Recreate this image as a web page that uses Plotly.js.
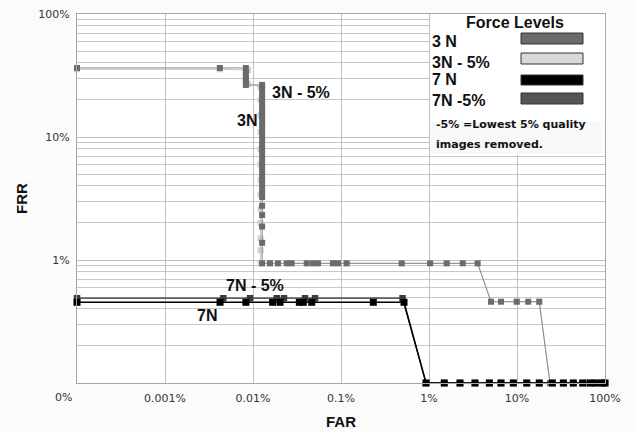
<!DOCTYPE html>
<html>
<head>
<meta charset="utf-8">
<script src="https://cdn.plot.ly/plotly-3.0.1.min.js"></script>
<style>html,body{margin:0;padding:0;background:#fbfbfb;}#chart{width:635px;height:432px;}</style>
</head>
<body>
<div id="chart"></div>
<script>
// ---- data (percent units) ----
const X_TICKS = [0.0001, 0.001, 0.01, 0.1, 1, 10, 100];
const X_TICK_TEXT = ['0%', '0.001%', '0.01%', '0.1%', '1%', '10%', '100%'];
const Y_TICKS = [1, 10, 100];
const Y_TICK_TEXT = ['1%', '10%', '100%'];
const X_TITLE = 'FAR';
const Y_TITLE = 'FRR';

const far3N = [0.0001, 0.0042, 0.0083, 0.0083, 0.0083, 0.0083, 0.0083, 0.0083,
  0.0127, 0.0127, 0.0127, 0.0127, 0.0127, 0.0127, 0.0127, 0.0127, 0.0127, 0.0127,
  0.0127, 0.0127, 0.0127, 0.0127, 0.0127, 0.0127, 0.0127, 0.0127, 0.0127, 0.0127,
  0.0127, 0.0127, 0.0127, 0.0127, 0.0127, 0.0127, 0.0127,
  0.0127, 0.0127, 0.0156, 0.0192, 0.0242, 0.0275, 0.0408, 0.0481, 0.0548, 0.0811, 0.0925, 0.116,
  0.49, 1.03, 1.59, 2.42, 3.57,
  5.07, 6.58, 9.93, 13.4, 17.9,
  23.7, 33.6, 43.6, 55.8, 67.6, 77, 91.8, 100];
const frr3N = [36.4, 36.4, 36.4, 34, 32, 30, 28.5, 26.5,
  26.5, 24.5, 22.5, 20.5, 19, 17.5, 16, 14.8, 13.6, 12.5,
  11.5, 10.5, 9.6, 8.8, 8.0, 7.3, 6.6, 6.0, 5.4, 4.9,
  4.4, 4.0, 3.6, 3.25, 2.76, 2.32, 1.87,
  1.38, 0.94, 0.94, 0.94, 0.94, 0.94, 0.94, 0.94, 0.94, 0.94, 0.94, 0.94,
  0.94, 0.94, 0.94, 0.94, 0.94,
  0.458, 0.458, 0.458, 0.458, 0.458,
  0.1, 0.1, 0.1, 0.1, 0.1, 0.1, 0.1, 0.1];

const far3N5 = [0.0001, 0.0042, 0.0088, 0.0088, 0.0122, 0.0122, 0.0122, 0.0122,
  0.0122, 0.0122, 0.0122, 0.0122, 0.0122, 0.0122, 0.0122, 0.0122, 0.0122,
  0.0192, 0.0408, 0.116, 0.49, 1.59, 3.57, 5.07, 9.93, 17.9, 23.7, 55.8, 100];
const frr3N5 = [35.5, 35.5, 35, 27, 25.5, 20, 15, 11, 8, 6, 4.5, 3.4, 2.6, 2.0, 1.5, 1.2, 0.94,
  0.94, 0.94, 0.94, 0.94, 0.94, 0.94, 0.458, 0.458, 0.458, 0.1, 0.1, 0.1];

const far7N = [0.0001, 0.00422, 0.0083, 0.0167, 0.0203, 0.0336, 0.0373, 0.0465, 0.233, 0.52,
  0.925, 1.49, 2.25, 3.33, 4.85, 6.58, 9.08, 12.9, 17.9, 25.2, 33.6, 43.6, 55.8, 67.6, 77, 91.8, 100];
const frr7N = [0.453, 0.453, 0.453, 0.453, 0.453, 0.453, 0.453, 0.453, 0.453, 0.453,
  0.1, 0.1, 0.1, 0.1, 0.1, 0.1, 0.1, 0.1, 0.1, 0.1, 0.1, 0.1, 0.1, 0.1, 0.1, 0.1, 0.1];

const far7N5 = [0.0001, 0.0046, 0.00925, 0.0186, 0.0225, 0.039, 0.0507, 0.50,
  0.925, 1.49, 2.25, 3.33, 4.85, 6.58, 9.08, 12.9, 17.9, 25.2, 33.6, 43.6, 55.8, 67.6, 77, 91.8, 100];
const frr7N5 = [0.489, 0.489, 0.489, 0.489, 0.489, 0.489, 0.489, 0.489,
  0.1, 0.1, 0.1, 0.1, 0.1, 0.1, 0.1, 0.1, 0.1, 0.1, 0.1, 0.1, 0.1, 0.1, 0.1, 0.1, 0.1];

const LEGEND_TITLE = 'Force Levels';
const LEGEND_NAMES = ['3 N', '3N - 5%', '7 N', '7N -5%'];
const LEGEND_COLORS = ['#6b6b6b', '#d8d8d8', '#000000', '#555555'];
const NOTE_LINES = ['-5% =Lowest 5% quality', 'images removed.'];

// ---- traces ----
const mk = (x, y, lineColor, lineW, mColor, mSize) => ({
  type: 'scatter', mode: 'lines+markers', x: x, y: y, cliponaxis: false,
  line: {color: lineColor, width: lineW},
  marker: {symbol: 'square', size: mSize, color: mColor, line: {width: 0}},
  showlegend: false, hoverinfo: 'skip'
});
const data = [
  mk(far3N5, frr3N5, '#c8c8c8', 1, '#d0d0d0', 6),
  mk(far3N, frr3N, '#8a8a8a', 1, '#6b6b6b', 6),
  mk(far7N5, frr7N5, '#333333', 1.3, '#3c3c3c', 6.5),
  mk(far7N, frr7N, '#000000', 1.5, '#000000', 7)
];

// ---- layout helpers (paper coords) ----
const L = 77, R = 605, T = 14, B = 383;
const px = v => (v - L) / (R - L);
const py = v => (B - v) / (B - T);

const shapes = [
  {type: 'rect', xref: 'paper', yref: 'paper', x0: px(430), x1: px(605), y0: py(155), y1: py(14.5),
   fillcolor: '#ffffff', line: {width: 0}, layer: 'above'},
  {type: 'rect', xref: 'paper', yref: 'paper', x0: px(431), x1: px(602), y0: py(154), y1: py(122),
   fillcolor: '#f8f8f8', line: {width: 0}, layer: 'above'}
];
const swY = [[33, 44], [53, 64], [75, 85], [93, 104]];
LEGEND_COLORS.forEach((c, i) => {
  shapes.push({type: 'rect', xref: 'paper', yref: 'paper', x0: px(521), x1: px(583),
    y0: py(swY[i][1]), y1: py(swY[i][0]), fillcolor: c, line: {color: '#333333', width: 1}, layer: 'above'});
});

const bold16 = {family: 'Liberation Sans, Arial, sans-serif', size: 16, color: '#111111'};
const titleFont = {family: 'Liberation Sans, Arial, sans-serif', size: 15, color: '#111111'};
const annotations = [
  {xref: 'paper', yref: 'paper', x: px(515), y: py(22), text: '<b>' + LEGEND_TITLE + '</b>', showarrow: false,
   font: bold16, xanchor: 'center', yanchor: 'middle'},
  {xref: 'paper', yref: 'paper', x: px(22), y: py(199), text: '<b>' + Y_TITLE + '</b>', showarrow: false,
   textangle: -90, font: titleFont, xanchor: 'center', yanchor: 'middle'}
];
const legY = [42, 62, 80, 100];
LEGEND_NAMES.forEach((n, i) => annotations.push({xref: 'paper', yref: 'paper', x: px(430), y: py(legY[i]),
  text: '<b>' + n + '</b>', showarrow: false, font: bold16, xanchor: 'left', yanchor: 'middle'}));
[125, 144].forEach((yy, i) => annotations.push({xref: 'paper', yref: 'paper', x: px(434), y: py(yy),
  text: '<b>' + NOTE_LINES[i] + '</b>', showarrow: false,
  font: {family: 'DejaVu Sans, sans-serif', size: 11, color: '#111111'}, xanchor: 'left', yanchor: 'middle'}));
const inPlot = [['3N - 5%', 301, 92], ['3N', 246.5, 120], ['7N - 5%', 254.5, 285], ['7N', 207, 315]];
inPlot.forEach(a => annotations.push({xref: 'paper', yref: 'paper', x: px(a[1]), y: py(a[2]),
  text: '<b>' + a[0] + '</b>', showarrow: false, font: bold16, xanchor: 'center', yanchor: 'middle'}));
// first x tick label sits slightly left of the axis corner
annotations.push({xref: 'paper', yref: 'paper', x: px(63), y: py(398), text: X_TICK_TEXT[0], showarrow: false,
  font: {family: 'DejaVu Sans, sans-serif', size: 11, color: '#333333'}, xanchor: 'center', yanchor: 'middle'});

const tickFont = {family: 'DejaVu Sans, sans-serif', size: 11, color: '#333333'};
const layout = {
  width: 635, height: 432,
  margin: {l: L, r: 635 - R, t: T, b: 432 - B},
  paper_bgcolor: '#fbfbfb', plot_bgcolor: '#ffffff',
  showlegend: false,
  xaxis: {
    type: 'log', range: [-4, 2], tickvals: X_TICKS,
    ticktext: [''].concat(X_TICK_TEXT.slice(1)),
    tickfont: tickFont, ticks: 'outside', ticklen: 5, tickcolor: 'rgba(0,0,0,0)',
    showgrid: true, gridcolor: '#c0c0c0', gridwidth: 1,
    showline: true, linecolor: '#a8a8a8', linewidth: 1, mirror: true, zeroline: false,
    title: {text: '<b>' + X_TITLE + '</b>', font: titleFont, standoff: 12}
  },
  yaxis: {
    type: 'log', range: [-1, 2], tickvals: Y_TICKS, ticktext: Y_TICK_TEXT,
    tickfont: tickFont, ticks: 'outside', ticklen: 4, tickcolor: 'rgba(0,0,0,0)',
    showgrid: true, gridcolor: '#c0c0c0', gridwidth: 1,
    minor: {dtick: 'D1', showgrid: true, gridcolor: '#c8c8c8', gridwidth: 1, ticks: ''},
    showline: true, linecolor: '#a8a8a8', linewidth: 1, mirror: true, zeroline: false
  },
  shapes: shapes,
  annotations: annotations
};
Plotly.newPlot('chart', data, layout, {staticPlot: true, displayModeBar: false});
</script>
</body>
</html>
